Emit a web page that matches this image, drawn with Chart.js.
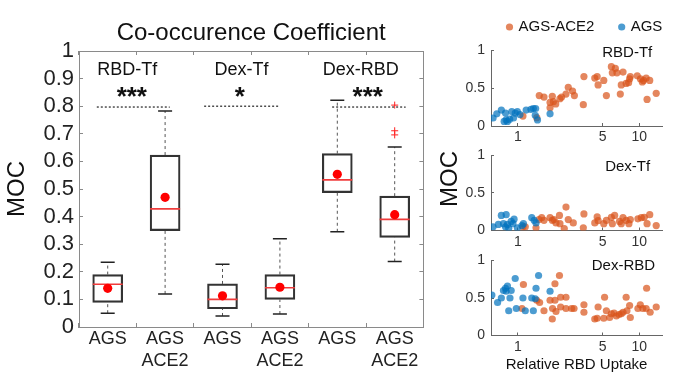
<!DOCTYPE html>
<html>
<head>
<meta charset="utf-8">
<script src="https://cdn.jsdelivr.net/npm/chart.js@4.4.0/dist/chart.umd.min.js"></script>
<style>
  body { margin: 0; background: #fff; }
  #wrap { position: relative; width: 686px; height: 389px; overflow: hidden; }
  canvas { position: absolute; top: 0; }
</style>
</head>
<body>
<div id="wrap">
  <canvas id="moc" width="440" height="389" style="left:0"></canvas>
  <canvas id="sc1" width="246" height="389" style="left:440px"></canvas>
  <canvas id="sc2" width="246" height="389" style="left:440px"></canvas>
  <canvas id="sc3" width="246" height="389" style="left:440px"></canvas>
</div>
<script>
const fam = "'Liberation Sans', Arial, Helvetica, sans-serif";
Chart.defaults.font.family = fam;
Chart.defaults.color = '#222';
Chart.defaults.animation = false;

// ---- box plot (left) ----
const groupNames = ['RBD-Tf', 'Dex-Tf', 'Dex-RBD'];
const sigMarks = ['***', '*', '***'];
const cellLabels = [['AGS'], ['AGS', 'ACE2'], ['AGS'], ['AGS', 'ACE2'], ['AGS'], ['AGS', 'ACE2']];
const cellPos = [0.5, 1.5, 2.5, 3.5, 4.5, 5.5];
const lowWhisk = [0.05, 0.12, 0.04, 0.047, 0.345, 0.237];
const q1 = [0.089, 0.349, 0.066, 0.10, 0.487, 0.325];
const medians = [0.155, 0.428, 0.10, 0.142, 0.533, 0.39];
const q3 = [0.19, 0.623, 0.156, 0.19, 0.628, 0.474];
const highWhisk = [0.235, 0.783, 0.227, 0.32, 0.822, 0.652];
const means = [0.14, 0.47, 0.113, 0.144, 0.553, 0.407];
const outlierPos = [5.5, 5.5, 5.5];
const outlierVal = [0.804, 0.711, 0.696];
const sigFrom = [0.31, 2.18, 4.41];
const sigTo = [1.58, 3.48, 5.69];
const sigLevel = [0.797, 0.80, 0.797];
const groupLabelX = [0.84, 2.83, 4.91];
const starX = [0.92, 2.8, 5.03];
const yTickVals = [0, 0.1, 0.2, 0.3, 0.4, 0.5, 0.6, 0.7, 0.8, 0.9, 1];
const yTickText = ['0', '0.1', '0.2', '0.3', '0.4', '0.5', '0.6', '0.7', '0.8', '0.9', '1'];

// ---- scatter panels (right) ----
const rbdTfAce2X = [1.10,1.43,1.50,1.64,1.84,1.92,1.84,1.96,2.05,2.22,2.29,2.49,2.60,2.82,2.92,3.50,3.46,4.30,4.50,4.58,5.10,5.36,5.89,6.35,6.00,6.55,7.35,6.98,7.11,7.80,8.17,8.44,8.33,9.63,10.24,10.85,11.4,12.2,11.6,13.8,10.6];
const rbdTfAce2Y = [0.13,0.11,0.40,0.38,0.31,0.39,0.24,0.32,0.29,0.36,0.38,0.42,0.51,0.46,0.40,0.65,0.28,0.63,0.65,0.54,0.60,0.40,0.78,0.76,0.70,0.70,0.71,0.42,0.54,0.56,0.57,0.65,0.62,0.66,0.62,0.60,0.63,0.60,0.35,0.43,0.58];
const rbdTfAgsX = [0.624,0.67,0.73,0.79,0.80,0.77,0.82,0.855,0.89,0.95,0.99,0.92,1.04,1.17,1.28,1.34,1.40,1.45,1.84,1.39];
const rbdTfAgsY = [0.105,0.16,0.21,0.17,0.08,0.06,0.06,0.09,0.19,0.17,0.19,0.105,0.15,0.21,0.22,0.23,0.23,0.08,0.16,0.14];

const dexTfAce2X = [1.10,1.15,1.41,1.49,1.57,1.64,1.84,1.92,1.98,2.06,2.20,2.22,2.41,2.49,2.60,2.86,3.50,3.46,4.30,4.50,4.58,5.10,5.36,5.89,6.27,6.00,7.11,7.35,7.80,8.22,8.44,9.75,10.4,11.0,12.2,11.6,13.8,6.88];
const dexTfAce2Y = [0.05,0.05,0.035,0.145,0.17,0.135,0.17,0.135,0.145,0.10,0.20,0.09,0.026,0.31,0.145,0.10,0.22,0.035,0.10,0.18,0.13,0.09,0.135,0.175,0.20,0.09,0.09,0.17,0.135,0.09,0.145,0.155,0.17,0.175,0.21,0.09,0.065,0.12];
const dexTfAgsX = [0.624,0.69,0.73,0.80,0.76,0.79,0.82,0.84,0.88,0.93,0.91,0.99,1.08,1.11,1.30,1.36,1.41];
const dexTfAgsY = [0.05,0.08,0.20,0.21,0.09,0.05,0.08,0.03,0.12,0.15,0.09,0.035,0.065,0.09,0.17,0.135,0.10];

const dexRbdAce2X = [1.11,1.08,1.43,1.51,1.64,1.84,1.92,1.93,2.02,2.06,2.02,2.20,2.25,2.25,2.49,2.49,2.77,2.90,3.50,3.50,4.30,4.50,4.58,5.10,5.18,5.70,5.89,6.20,6.48,6.81,7.11,7.35,7.80,7.92,8.33,8.44,9.75,10.2,10.7,11.5,11.4,12.3,13.8,5.36];
const dexRbdAce2Y = [0.68,0.36,0.47,0.44,0.33,0.47,0.22,0.36,0.47,0.32,0.69,0.80,0.51,0.38,0.51,0.36,0.36,0.36,0.41,0.31,0.22,0.23,0.38,0.23,0.51,0.24,0.29,0.30,0.26,0.28,0.29,0.31,0.51,0.33,0.40,0.24,0.36,0.41,0.36,0.63,0.36,0.31,0.38,0.33];
const dexRbdAgsX = [0.61,0.68,0.73,0.76,0.79,0.82,0.80,0.84,0.88,0.86,0.95,0.97,1.10,1.15,1.30,1.34,1.41,1.48,1.39,1.84];
const dexRbdAgsY = [0.54,0.44,0.50,0.60,0.63,0.66,0.59,0.33,0.60,0.50,0.76,0.36,0.50,0.33,0.50,0.33,0.63,0.80,0.49,0.59];

const uptakeTicks = [1, 5, 10];
const uptakeTickText = ['1', '5', '10'];
const mocTicks = [0, 0.5, 1];
const mocTickText = ['0', '0.5', '1'];
const seriesNames = ['AGS-ACE2', 'AGS'];

const orange = 'rgba(217, 83, 25, 0.7)';
const blue = 'rgba(0, 114, 189, 0.7)';
const frame = '#8a8a8a';

function pts(xs, ys) {
  return xs.map((x, i) => ({ x: x, y: ys[i] }));
}

// ---------- left chart ----------
const boxDatasets = [];
boxDatasets.push({
  type: 'bar',
  data: cellPos.map((p, i) => ({ x: p, y: [q1[i], q3[i]] })),
  backgroundColor: 'rgba(255,255,255,0)',
  borderColor: '#333',
  borderWidth: 1.5,
  borderSkipped: false,
  barThickness: 30,
  order: 6
});
cellPos.forEach((p, i) => {
  boxDatasets.push({
    type: 'line',
    data: [{ x: p, y: lowWhisk[i] }, { x: p, y: q1[i] }],
    borderColor: '#555', borderWidth: 1, borderDash: [3, 3], pointRadius: 0, order: 5
  });
  boxDatasets.push({
    type: 'line',
    data: [{ x: p, y: q3[i] }, { x: p, y: highWhisk[i] }],
    borderColor: '#555', borderWidth: 1, borderDash: [3, 3], pointRadius: 0, order: 5
  });
});
groupNames.forEach((g, i) => {
  boxDatasets.push({
    type: 'line',
    data: [{ x: sigFrom[i], y: sigLevel[i] }, { x: sigTo[i], y: sigLevel[i] }],
    borderColor: '#222', borderWidth: 1.2, borderDash: [2, 2], pointRadius: 0, order: 4
  });
});
boxDatasets.push({
  type: 'scatter',
  data: pts(cellPos, lowWhisk).concat(pts(cellPos, highWhisk)),
  pointStyle: 'line', pointRadius: 7, borderColor: '#222', borderWidth: 1.5, order: 3
});
boxDatasets.push({
  type: 'scatter',
  data: pts(cellPos, medians),
  pointStyle: 'line', pointRadius: 15, borderColor: '#f03c3c', borderWidth: 1.6, order: 2
});
boxDatasets.push({
  type: 'scatter',
  data: pts(outlierPos, outlierVal),
  pointStyle: 'cross', pointRadius: 3.5, borderColor: '#ff2020', borderWidth: 1, order: 2
});
boxDatasets.push({
  type: 'scatter',
  data: pts(cellPos, means),
  pointStyle: 'circle', pointRadius: 4.6, backgroundColor: '#ff0000', borderWidth: 0, order: 1
});

const boxNotes = {
  id: 'boxNotes',
  afterDatasetsDraw(chart) {
    const { ctx, scales: { x, y } } = chart;
    ctx.save();
    ctx.fillStyle = '#111';
    ctx.textAlign = 'center';
    ctx.textBaseline = 'middle';
    ctx.font = '18px ' + fam;
    groupNames.forEach((g, i) => {
      ctx.fillText(g, x.getPixelForValue(groupLabelX[i]), y.getPixelForValue(0.93));
    });
    ctx.font = 'bold 26px ' + fam;
    sigMarks.forEach((s, i) => {
      ctx.fillText(s, x.getPixelForValue(starX[i]), y.getPixelForValue(0.83));
    });
    ctx.restore();
  }
};

const innerGrid = { drawOnChartArea: false, drawTicks: true, tickLength: -4, color: frame };

new Chart(document.getElementById('moc'), {
  type: 'bar',
  data: { datasets: boxDatasets },
  plugins: [boxNotes],
  options: {
    responsive: false,
    layout: { padding: { top: 0, left: 0, right: 9, bottom: 0 } },
    plugins: {
      legend: { display: false },
      tooltip: { enabled: false },
      title: {
        display: true, text: 'Co-occurence Coefficient', fullSize: false,
        color: '#111', font: { size: 24, weight: 'normal' },
        padding: { top: 18.6, bottom: 3.6 }
      }
    },
    scales: {
      x: {
        type: 'linear', min: 0, max: 6, offset: false,
        afterBuildTicks: s => { s.ticks = cellPos.map(v => ({ value: v })); },
        afterFit: s => { s.height = 62; },
        ticks: {
          callback: (v, i) => cellLabels[i], color: '#222', padding: 6,
          maxRotation: 0, autoSkip: false, font: { size: 18, lineHeight: 1.17 }
        },
        grid: innerGrid,
        border: { color: frame, width: 1 }
      },
      x2: {
        type: 'linear', position: 'top', min: 0, max: 6, offset: false,
        afterBuildTicks: s => { s.ticks = cellPos.map(v => ({ value: v })); },
        afterFit: s => { s.height = 0; },
        ticks: { display: false },
        grid: innerGrid,
        border: { color: frame, width: 1 }
      },
      y: {
        min: 0, max: 1,
        afterBuildTicks: s => { s.ticks = yTickVals.map(v => ({ value: v })); },
        afterFit: s => { s.width = 79; },
        ticks: { callback: (v, i) => yTickText[i], color: '#222', padding: 9, autoSkip: false, font: { size: 22 } },
        grid: innerGrid,
        border: { color: frame, width: 1 },
        title: { display: true, text: 'MOC', color: '#111', font: { size: 24 }, padding: { top: 3 } }
      },
      y2: {
        position: 'right', min: 0, max: 1,
        afterBuildTicks: s => { s.ticks = yTickVals.map(v => ({ value: v })); },
        afterFit: s => { s.width = 0; },
        ticks: { display: false, autoSkip: false },
        grid: innerGrid,
        border: { color: frame, width: 1 }
      }
    }
  }
});

// ---------- right scatter panels ----------
function panelNotes(label, lx, ly, extra) {
  return {
    id: 'panelNotes',
    afterDatasetsDraw(chart) {
      const { ctx, scales: { x, y } } = chart;
      ctx.save();
      ctx.fillStyle = '#111';
      ctx.font = '15px ' + fam;
      ctx.textAlign = 'right';
      ctx.textBaseline = 'middle';
      ctx.fillText(label, x.getPixelForValue(lx), y.getPixelForValue(ly));
      if (extra) extra(chart, ctx);
      ctx.restore();
    }
  };
}

function drawLegend(chart, ctx) {
  const cols = [orange, blue];
  const dotX = [69.5, 181.7];
  ctx.font = '15px ' + fam;
  ctx.textAlign = 'left';
  ctx.textBaseline = 'middle';
  seriesNames.forEach((n, i) => {
    ctx.fillStyle = cols[i];
    ctx.beginPath();
    ctx.arc(dotX[i], 27, 3.6, 0, Math.PI * 2);
    ctx.fill();
    ctx.fillStyle = '#111';
    ctx.fillText(n, dotX[i] + 9, 27);
  });
}

function drawMoc(chart, ctx) {
  ctx.save();
  ctx.translate(10, 179);
  ctx.rotate(-Math.PI / 2);
  ctx.font = '24px ' + fam;
  ctx.fillStyle = '#111';
  ctx.textAlign = 'center';
  ctx.textBaseline = 'middle';
  ctx.fillText('MOC', 0, 0);
  ctx.restore();
}

function makePanel(id, ace2X, ace2Y, agsX, agsY, pad, xHeight, notes, xTitle) {
  const sideGrid = { drawOnChartArea: false, drawTicks: true, tickLength: -3, color: '#666' };
  new Chart(document.getElementById(id), {
    type: 'scatter',
    data: {
      datasets: [
        { label: seriesNames[0], data: pts(ace2X, ace2Y), backgroundColor: orange, borderWidth: 0, pointRadius: 3.6, order: 1 },
        { label: seriesNames[1], data: pts(agsX, agsY), backgroundColor: blue, borderWidth: 0, pointRadius: 3.6, order: 0 }
      ]
    },
    plugins: [notes],
    options: {
      responsive: false,
      layout: { padding: pad },
      plugins: { legend: { display: false }, tooltip: { enabled: false } },
      scales: {
        x: {
          type: 'logarithmic', min: 0.626, max: 15.4,
          afterBuildTicks: s => { s.ticks = uptakeTicks.map(v => ({ value: v })); },
          afterFit: s => { s.height = xHeight; },
          ticks: { callback: (v, i) => uptakeTickText[i], color: '#333', padding: 6, maxRotation: 0, autoSkip: false, font: { size: 14 } },
          grid: sideGrid,
          border: { color: '#666', width: 1 },
          title: xTitle ? { display: true, text: xTitle, color: '#111', font: { size: 15 }, padding: { bottom: 15 } } : { display: false }
        },
        y: {
          min: 0, max: 1,
          afterBuildTicks: s => { s.ticks = mocTicks.map(v => ({ value: v })); },
          afterFit: s => { s.width = 51; },
          ticks: { callback: (v, i) => mocTickText[i], color: '#333', padding: 9, autoSkip: false, font: { size: 14 } },
          grid: sideGrid,
          border: { color: '#666', width: 1 }
        }
      }
    }
  });
}

makePanel('sc1', rbdTfAce2X, rbdTfAce2Y, rbdTfAgsX, rbdTfAgsY,
  { top: 50, left: 0, right: 24, bottom: 243 }, 20,
  panelNotes('RBD-Tf', 12.8, 0.96, drawLegend));
makePanel('sc2', dexTfAce2X, dexTfAce2Y, dexTfAgsX, dexTfAgsY,
  { top: 155, left: 0, right: 24, bottom: 138.5 }, 20,
  panelNotes('Dex-Tf', 12.3, 0.845, drawMoc));
makePanel('sc3', dexRbdAce2X, dexRbdAce2Y, dexRbdAgsX, dexRbdAgsY,
  { top: 260.5, left: 0, right: 24, bottom: 0 }, 53.5,
  panelNotes('Dex-RBD', 13.5, 0.93), 'Relative RBD Uptake');
</script>
</body>
</html>
